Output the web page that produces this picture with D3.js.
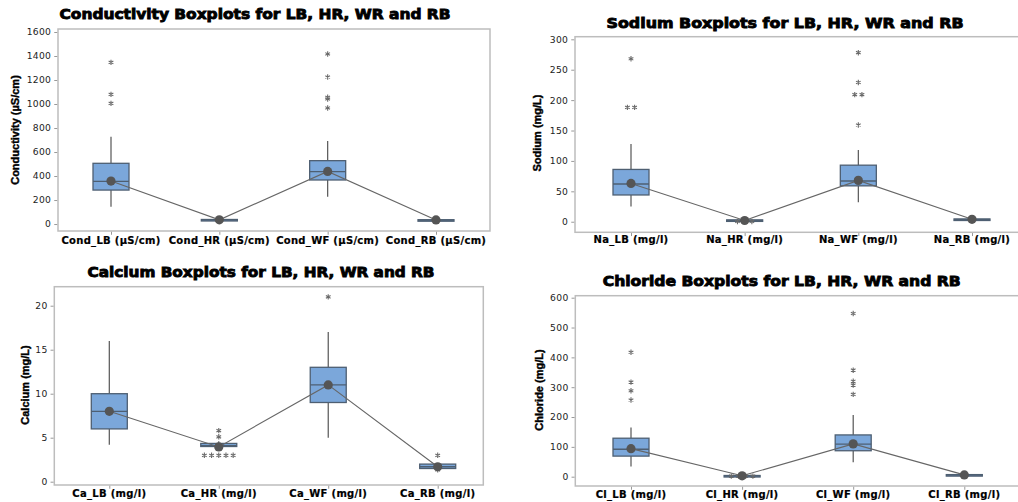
<!DOCTYPE html>
<html><head><meta charset="utf-8">
<script src="https://cdn.jsdelivr.net/npm/d3@7"></script>
<style>
html,body{margin:0;padding:0;background:#fff;}
svg{display:block;}
</style></head>
<body>
<svg id="chart" width="1018" height="502"></svg>
<script>
// ---------------- DATA ----------------
// Conductivity
const condCategories = ["Cond_LB (µS/cm)", "Cond_HR (µS/cm)", "Cond_WF (µS/cm)", "Cond_RB (µS/cm)"];
const condQ1 = [283, 30, 367, 30];
const condMedian = [355, 34, 436, 33];
const condQ3 = [506, 38, 528, 36];
const condWhiskerLow = [145, 28, 228, 28];
const condWhiskerHigh = [727, 42, 692, 40];
const condMean = [358, 35, 438, 34];
const condOutliers = [[1005, 1080, 1347], [], [967, 1042, 1056, 1225, 1417], []];
const condTicks = [0, 200, 400, 600, 800, 1000, 1200, 1400, 1600];

// Sodium
const naCategories = ["Na_LB (mg/l)", "Na_HR (mg/l)", "Na_WF (mg/l)", "Na_RB (mg/l)"];
const naQ1 = [44, 1, 59, 3.5];
const naMedian = [62, 2, 67, 4];
const naQ3 = [86, 3, 93, 4.5];
const naWhiskerLow = [25, 0.8, 32, 3];
const naWhiskerHigh = [128, 3.5, 118, 5];
const naMean = [63, 2, 68, 4];
const naOutliers = [[188, 188, 268], [0.3, 0.3, 0.3], [159, 209, 209, 229, 278], []];
const naTicks = [0, 50, 100, 150, 200, 250, 300];

// Calcium
const caCategories = ["Ca_LB (mg/l)", "Ca_HR (mg/l)", "Ca_WF (mg/l)", "Ca_RB (mg/l)"];
const caQ1 = [6, 4.0, 9, 1.5];
const caMedian = [8, 4.1, 11, 1.7];
const caQ3 = [10, 4.35, 13, 2.0];
const caWhiskerLow = [4.2, 4.0, 5, 1.5];
const caWhiskerHigh = [16, 4.6, 17, 2.0];
const caMean = [8, 3.95, 11, 1.7];
const caOutliers = [[], [3, 3, 3, 3, 3, 5.1, 5.8], [21], [1.35, 3.0]];
const caTicks = [0, 5, 10, 15, 20];

// Chloride
const clCategories = ["Cl_LB (mg/l)", "Cl_HR (mg/l)", "Cl_WF (mg/l)", "Cl_RB (mg/l)"];
const clQ1 = [69, 2, 87, 5];
const clMedian = [92, 3, 109, 6];
const clQ3 = [129, 4, 140, 7];
const clWhiskerLow = [34, 1, 48, 4];
const clWhiskerHigh = [165, 5, 207, 8];
const clMean = [94, 3, 110, 6];
const clOutliers = [[257, 288, 317, 417], [2, 2, 2, 2], [276, 307, 320, 357, 547], []];
const clTicks = [0, 100, 200, 300, 400, 500, 600];

// ---------------- LAYOUT ----------------
const panels = [
  { title: "Conductivity Boxplots for LB, HR, WR and RB", titleX: 255, titleY: 14, titleLen: 391,
    yLabel: "Conductivity (µS/cm)", yLabelX: 15, yLabelY: 130,
    frame: [58, 29, 490, 231], catRange: [111, 436], yDomain: [-58, 1625], catY: 240,
    cats: condCategories, q1: condQ1, med: condMedian, q3: condQ3, wlo: condWhiskerLow, whi: condWhiskerHigh,
    mean: condMean, out: condOutliers, ticks: condTicks },
  { title: "Sodium Boxplots for LB, HR, WR and RB", titleX: 785, titleY: 22.7, titleLen: 357,
    yLabel: "Sodium (mg/L)", yLabelX: 537, yLabelY: 133,
    frame: [575, 36.7, 1030, 232.3], catRange: [631, 972], yDomain: [-17.4, 304.3], catY: 239.3,
    cats: naCategories, q1: naQ1, med: naMedian, q3: naQ3, wlo: naWhiskerLow, whi: naWhiskerHigh,
    mean: naMean, out: naOutliers, ticks: naTicks },
  { title: "Calcium Boxplots for LB, HR, WR and RB", titleX: 261, titleY: 272.3, titleLen: 347,
    yLabel: "Calcium (mg/L)", yLabelX: 25, yLabelY: 385,
    frame: [54.3, 286.7, 483.3, 485], catRange: [109.3, 437.7], yDomain: [-0.375, 22.16], catY: 493.3,
    cats: caCategories, q1: caQ1, med: caMedian, q3: caQ3, wlo: caWhiskerLow, whi: caWhiskerHigh,
    mean: caMean, out: caOutliers, ticks: caTicks },
  { title: "Chloride Boxplots for LB, HR, WR and RB", titleX: 781.7, titleY: 281, titleLen: 358,
    yLabel: "Chloride (mg/L)", yLabelX: 539.3, yLabelY: 390,
    frame: [575.3, 295.7, 1030, 486], catRange: [631, 964.3], yDomain: [-31.2, 606.7], catY: 494,
    cats: clCategories, q1: clQ1, med: clMedian, q3: clQ3, wlo: clWhiskerLow, whi: clWhiskerHigh,
    mean: clMean, out: clOutliers, ticks: clTicks }
];

const svg = d3.select("#chart");
const boxW = 36;
const star = d3.symbol().type(d3.symbolAsterisk).size(20);

panels.forEach(p => {
  const g = svg.append("g");
  const [x0, y0, x1, y1] = p.frame;
  const y = d3.scaleLinear().domain(p.yDomain).range([y1, y0]);
  const x = d3.scalePoint().domain(p.cats).range(p.catRange);

  // Frame
  g.append("rect").attr("x", x0).attr("y", y0).attr("width", x1 - x0).attr("height", y1 - y0)
    .attr("fill", "none").attr("stroke", "#bdbdbd").attr("stroke-width", 1.5);

  // Y axis
  const yAxis = d3.axisLeft(y).tickValues(p.ticks).tickSize(3).tickPadding(3).tickFormat(d3.format("d"));
  const ya = g.append("g").attr("transform", `translate(${x0 - 0.75},0)`).call(yAxis);
  ya.select(".domain").remove();
  ya.selectAll(".tick line").attr("stroke", "#999");
  ya.selectAll(".tick text").attr("font-family", "DejaVu Sans").attr("font-size", 9.2)
    .attr("fill", "#222").attr("letter-spacing", 0.3);

  // X axis ticks
  const xAxis = d3.axisBottom(x).tickSize(3).tickFormat("");
  const xa = g.append("g").attr("transform", `translate(0,${y1 + 0.75})`).call(xAxis);
  xa.select(".domain").remove();
  xa.selectAll(".tick line").attr("stroke", "#999");

  // Category labels
  g.selectAll(".cat").data(p.cats).enter().append("text")
    .attr("x", d => x(d)).attr("y", p.catY + 3.6)
    .attr("text-anchor", "middle").attr("font-family", "DejaVu Sans").attr("font-weight", "bold")
    .attr("font-size", 10).attr("fill", "#000").attr("letter-spacing", 0.3)
    .attr("stroke", "#000").attr("stroke-width", 0.2)
    .text(d => d);

  // Title
  g.append("text").attr("x", p.titleX).attr("y", p.titleY + 5)
    .attr("text-anchor", "middle").attr("font-family", "DejaVu Sans").attr("font-weight", "bold")
    .attr("font-size", 14.5).attr("fill", "#000").attr("stroke", "#000").attr("stroke-width", 0.9)
    .attr("textLength", p.titleLen).attr("lengthAdjust", "spacingAndGlyphs")
    .text(p.title);

  // Y label
  g.append("text").attr("transform", `translate(${p.yLabelX + 4},${p.yLabelY}) rotate(-90)`)
    .attr("text-anchor", "middle").attr("font-family", "Liberation Sans Narrow, Liberation Sans")
    .attr("font-weight", "bold").attr("font-size", 11).attr("fill", "#000")
    .attr("stroke", "#000").attr("stroke-width", 0.4)
    .text(p.yLabel);

  const idx = d3.range(p.cats.length);

  // Whiskers
  idx.forEach(i => {
    const cx = x(p.cats[i]);
    g.append("line").attr("x1", cx).attr("x2", cx).attr("y1", y(p.q3[i])).attr("y2", y(p.whi[i]))
      .attr("stroke", "#555").attr("stroke-width", 1.2);
    g.append("line").attr("x1", cx).attr("x2", cx).attr("y1", y(p.q1[i])).attr("y2", y(p.wlo[i]))
      .attr("stroke", "#555").attr("stroke-width", 1.2);
  });

  // Boxes
  g.selectAll(".box").data(idx).enter().append("rect")
    .attr("x", i => x(p.cats[i]) - boxW / 2).attr("width", boxW)
    .attr("y", i => y(p.q3[i])).attr("height", i => Math.max(1.5, y(p.q1[i]) - y(p.q3[i])))
    .attr("fill", "#7ba7da").attr("stroke", "#4e5f72").attr("stroke-width", 1.3);

  // Medians
  g.selectAll(".med").data(idx).enter().append("line")
    .attr("x1", i => x(p.cats[i]) - boxW / 2).attr("x2", i => x(p.cats[i]) + boxW / 2)
    .attr("y1", i => y(p.med[i])).attr("y2", i => y(p.med[i]))
    .attr("stroke", "#4e5f72").attr("stroke-width", 1.3);

  // Outliers (identical values dodged side by side)
  idx.forEach(i => {
    const counts = d3.rollup(p.out[i], v => v.length, d => d);
    const seen = new Map();
    p.out[i].forEach(v => {
      const n = counts.get(v);
      const k = seen.get(v) || 0;
      seen.set(v, k + 1);
      const dx = (k - (n - 1) / 2) * 7.2;
      g.append("path").attr("d", star)
        .attr("transform", `translate(${x(p.cats[i]) + dx},${y(v)})`)
        .attr("fill", "none").attr("stroke", "#6a6a6a").attr("stroke-width", 1.1);
    });
  });

  // Mean connect line
  const line = d3.line().x(i => x(p.cats[i])).y(i => y(p.mean[i]));
  g.append("path").attr("d", line(idx)).attr("fill", "none").attr("stroke", "#666").attr("stroke-width", 1.1);

  // Mean dots
  g.selectAll(".mean").data(idx).enter().append("circle")
    .attr("cx", i => x(p.cats[i])).attr("cy", i => y(p.mean[i])).attr("r", 4.6)
    .attr("fill", "#555");
});
</script>
</body></html>
